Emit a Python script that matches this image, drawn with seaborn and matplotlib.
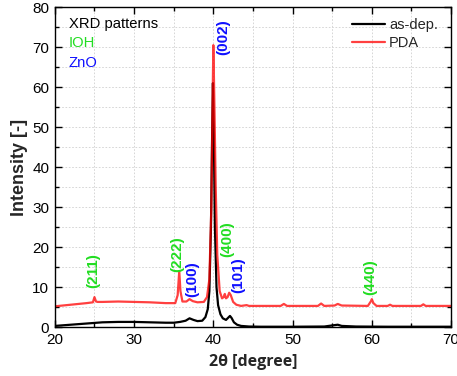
import numpy as np
import pandas as pd
import matplotlib
matplotlib.use("Agg")
import matplotlib.pyplot as plt
from matplotlib.ticker import MultipleLocator
import seaborn as sns

# ---- data ----
x_asdep = [20, 22, 24, 26, 28, 30, 32, 34, 35, 35.8, 36.5, 37.0, 37.5, 38.0, 38.6, 39.0, 39.3, 39.5,
           39.7, 39.85, 39.95, 40.05, 40.2, 40.4, 40.6, 40.9, 41.2, 41.6, 41.9, 42.1, 42.3, 42.6,
           43.0, 43.5, 44.5, 46, 50, 54, 55.3, 55.7, 56.2, 58, 62, 66, 70]
y_asdep = [0.3, 0.6, 0.9, 1.2, 1.3, 1.3, 1.2, 1.1, 1.1, 1.3, 1.6, 2.2, 1.8, 1.5, 1.6, 2.5, 4.5, 9,
           25, 48, 61, 50, 25, 10, 5.5, 3.2, 2.2, 1.8, 2.4, 2.8, 2.3, 1.2,
           0.6, 0.3, 0.15, 0.1, 0.1, 0.15, 0.5, 0.6, 0.3, 0.15, 0.1, 0.1, 0.1]

x_pda = [20, 22, 24, 24.8, 25.0, 25.2, 25.4, 26, 28, 30, 32, 34, 35.2, 35.5, 35.7, 35.85, 36.1,
         36.6, 37.0, 37.4, 38.0, 38.8, 39.2, 39.5, 39.75, 39.9, 40.0, 40.1, 40.3, 40.5, 40.8,
         41.1, 41.3, 41.45, 41.6, 41.8, 42.0, 42.2, 42.5, 42.9, 43.5, 44.2, 44.5, 45, 48.5, 48.9,
         49.3, 53.2, 53.6, 54, 55.3, 55.7, 56.2, 59.5, 59.9, 60.0, 60.2, 60.6, 62, 62.3, 62.6,
         66.2, 66.5, 66.8, 70]
y_pda = [5.2, 5.6, 6.0, 6.2, 7.5, 6.4, 6.3, 6.3, 6.4, 6.3, 6.2, 6.0, 6.0, 8, 14, 9, 6.4,
         6.4, 7.0, 6.5, 6.2, 6.3, 7.5, 12, 30, 55, 70.5, 60, 35, 18, 9,
         7.2, 7.5, 8.3, 7.2, 7.5, 8.6, 8.0, 6.3, 5.6, 5.3, 5.5, 5.3, 5.3, 5.3, 5.8,
         5.3, 5.3, 5.9, 5.3, 5.4, 5.8, 5.4, 5.3, 6.5, 7.0, 6.0, 5.3, 5.3, 5.6, 5.3,
         5.3, 5.7, 5.3, 5.3]

peak_labels = ["(211)", "(222)", "(100)", "(002)", "(400)", "(101)", "(440)"]
peak_x = [24.8, 35.4, 37.3, 41.2, 41.7, 43.1, 59.8]
peak_y = [9.7, 13.8, 7.5, 68.0, 17.5, 8.5, 8.0]
peak_phase = ["IOH", "IOH", "ZnO", "ZnO", "IOH", "ZnO", "IOH"]

phase_colors = {"IOH": "#22dd22", "ZnO": "#1010ff"}

df = pd.concat([
    pd.DataFrame({"two_theta": x_asdep, "intensity": y_asdep, "sample": "as-dep."}),
    pd.DataFrame({"two_theta": x_pda, "intensity": y_pda, "sample": "PDA"}),
], ignore_index=True)

sns.set_style("ticks")
plt.rcParams["font.family"] = ["Liberation Sans", "DejaVu Sans"]

fig = plt.figure(figsize=(4.57, 3.76), dpi=100)
ax = fig.add_axes([0.12, 0.130, 0.867, 0.851])

sns.lineplot(data=df[df["sample"] == "as-dep."], x="two_theta", y="intensity",
             color="black", linewidth=1.6, label="as-dep.", ax=ax, sort=False)
sns.lineplot(data=df[df["sample"] == "PDA"], x="two_theta", y="intensity",
             color="#ff0000", alpha=0.75, linewidth=1.6, label="PDA", ax=ax, sort=False)

ax.set_xlim(20, 70)
ax.set_ylim(0, 80)
ax.xaxis.set_major_locator(MultipleLocator(10))
ax.xaxis.set_minor_locator(MultipleLocator(5))
ax.yaxis.set_major_locator(MultipleLocator(10))
ax.yaxis.set_minor_locator(MultipleLocator(5))
ax.grid(True, which="both", color="#d0d0d0", linestyle=(0, (2, 2)), linewidth=0.6)
ax.set_axisbelow(True)

ax.tick_params(which="both", direction="in", top=True, right=True, labelsize=11, width=1,
               colors="black")
ax.tick_params(which="major", length=5, pad=4)
ax.tick_params(which="minor", length=3)
for s in ax.spines.values():
    s.set_color("black")
    s.set_linewidth(1.0)

ax.set_xlabel("2θ [degree]", fontsize=11.5, fontweight="bold", labelpad=5,
              family=["Open Sans", "DejaVu Sans"])
ax.set_ylabel("Intensity [-]", fontsize=13, fontweight="bold", labelpad=3)

for lab, px, py, ph in zip(peak_labels, peak_x, peak_y, peak_phase):
    ax.text(px, py, lab, rotation=90, ha="center", va="bottom", fontsize=11,
            fontweight="bold", color=phase_colors[ph])

ax.text(0.035, 0.968, "XRD patterns", transform=ax.transAxes, fontsize=10.6, color="black", va="top")
ax.text(0.035, 0.910, "IOH", transform=ax.transAxes, fontsize=10.6, color=phase_colors["IOH"], va="top")
ax.text(0.035, 0.848, "ZnO", transform=ax.transAxes, fontsize=10.6, color=phase_colors["ZnO"], va="top")

leg = ax.legend(loc="upper right", bbox_to_anchor=(0.985, 0.99), frameon=False, fontsize=10.5,
                handlelength=2.3, handletextpad=0.25, borderaxespad=0.2, borderpad=0.3,
                labelspacing=0.3)

fig.savefig("out.png", dpi=100)
